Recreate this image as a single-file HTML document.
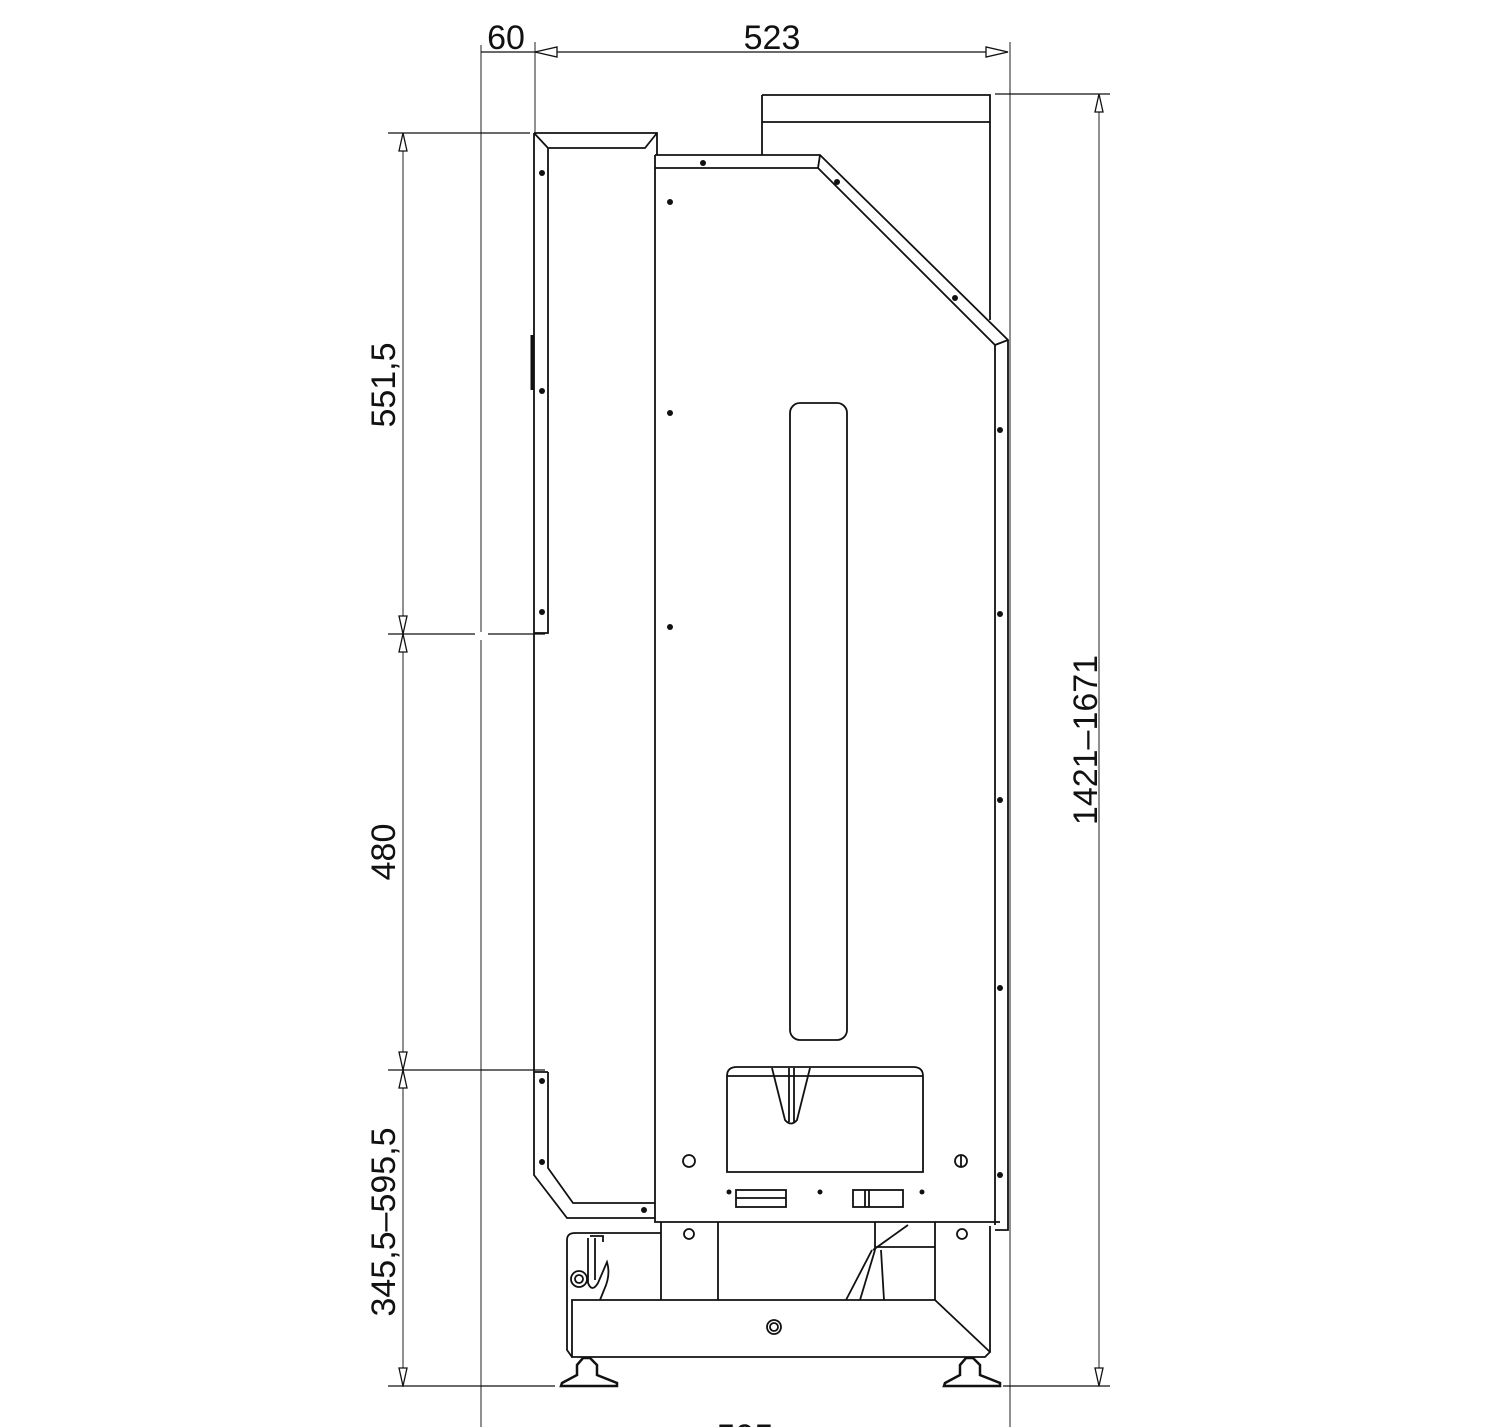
<!DOCTYPE html>
<html><head><meta charset="utf-8"><style>
html,body{margin:0;padding:0;background:#fff;}
svg{display:block;}
text{font-family:"Liberation Sans",sans-serif;font-size:34px;fill:#111;}
</style></head><body>
<svg width="1500" height="1427" viewBox="0 0 1500 1427" xmlns="http://www.w3.org/2000/svg">
<g fill="none" stroke="#111" stroke-width="1.3">
<!-- dimension lines -->
<line x1="481" y1="45" x2="481" y2="632" stroke="#555"/>
<line x1="481" y1="640" x2="481" y2="1427" stroke="#555"/>
<line x1="535" y1="42" x2="535" y2="135" stroke="#555"/>
<line x1="1010" y1="42" x2="1010" y2="1427" stroke="#555"/>
<line x1="481" y1="52" x2="1008" y2="52"/>
<path d="M535 52 L557 47 L557 57 Z M1008 52 L986 47 L986 57 Z" fill="#fff"/>
<line x1="403" y1="133" x2="403" y2="1387" stroke="#555"/>
<line x1="388" y1="133" x2="530" y2="133"/>
<line x1="388" y1="634" x2="475" y2="634"/>
<line x1="488" y1="634" x2="545" y2="634"/>
<line x1="388" y1="1070" x2="545" y2="1070"/>
<line x1="388" y1="1386" x2="555" y2="1386"/>
<line x1="1003" y1="1386" x2="1110" y2="1386"/>
<line x1="995" y1="94" x2="1110" y2="94"/>
<line x1="1099" y1="94" x2="1099" y2="1387" stroke="#555"/>
<path d="M403 133 l-4 18 h8 Z M403 634 l-4 -18 h8 Z M403 634 l-4 18 h8 Z M403 1070 l-4 -18 h8 Z M403 1070 l-4 18 h8 Z M403 1386 l-4 -18 h8 Z M1099 94 l-4 18 h8 Z M1099 1386 l-4 -18 h8 Z" fill="#fff"/>
</g>
<g fill="none" stroke="#111" stroke-width="1.8">
<!-- left upper panel -->
<path d="M534 133 H657 V155 M548 148 H645 L657 133 M534 133 L548 148 M548 148 V633 H534 M534 133 V1175 L567 1218 H655 M548 1072 V1168 L573 1203 H655 M534 1072 H548"/>
<line x1="532" y1="335" x2="532" y2="390" stroke-width="3"/>
<!-- top box -->
<path d="M762 95 H990 V320 M762 95 V155 M762 122 H990"/>
<!-- main body -->
<path d="M655 155 H820 L1008 340 V1230 H995 M655 168 H818 L995 345 V1225 M820 155 L818 168 M1008 340 L995 345 M655 155 V1222 H1000"/>
<!-- slot -->
<rect x="790" y="403" width="57" height="637" rx="10"/>
<!-- lower box -->
<path d="M727 1172 V1076 Q727 1067 737 1067 H913 Q923 1067 923 1076 V1172 Z M727 1076 H923"/>
<path d="M772 1068 L785 1120 Q791 1127 797 1120 L810 1068 M789 1068 V1122 M794 1068 V1122"/>
<circle cx="689" cy="1161" r="6"/><circle cx="961" cy="1161" r="6"/>
<line x1="961" y1="1155" x2="961" y2="1167"/>
<rect x="736" y="1190" width="50" height="17"/><line x1="736" y1="1198" x2="786" y2="1198"/>
<rect x="853" y="1190" width="50" height="17"/><line x1="865" y1="1190" x2="865" y2="1207"/><line x1="869" y1="1190" x2="869" y2="1207"/>
<!-- base -->
<path d="M661 1222 V1300 M718 1222 V1300 M935 1222 V1300 M990 1226 V1352"/>
<path d="M572 1300 H935 L990 1352 L985 1357 H572 Z"/>
<path d="M567 1240 Q567 1233 575 1233 H661 M567 1240 V1350 L572 1357"/>
<path d="M875 1222 V1250 M875 1247 H935 M873 1250 L908 1225 M872 1250 L846 1300 M875 1250 L860 1300 M881 1250 L884 1300"/>
<circle cx="689" cy="1234" r="5"/><circle cx="962" cy="1234" r="5"/>
<circle cx="774" cy="1327" r="7"/><circle cx="774" cy="1327" r="4"/>
<circle cx="579" cy="1279" r="8"/><circle cx="579" cy="1279" r="4"/>
<path d="M588 1238 V1283 Q592 1293 598 1283 L607 1262 Q611 1275 604 1290 L600 1300 M595 1238 V1280 M590 1236 H603 V1242"/>
</g>
<!-- feet -->
<path d="M561 1386 H617 V1383 L597 1375 V1365 L590 1358 H583 L577 1365 V1375 L562 1383 Z" fill="none" stroke="#111" stroke-width="2.5"/>
<path d="M944 1386 H1000 V1383 L980 1375 V1365 L973 1358 H966 L960 1365 V1375 L945 1383 Z" fill="none" stroke="#111" stroke-width="2.5"/>
<g fill="#111">
<circle cx="542" cy="173" r="3"/><circle cx="542" cy="391" r="3"/><circle cx="542" cy="612" r="3"/>
<circle cx="542" cy="1081" r="3"/><circle cx="542" cy="1162" r="3"/><circle cx="644" cy="1210" r="3"/>
<circle cx="703" cy="163" r="3"/><circle cx="670" cy="202" r="3"/><circle cx="670" cy="413" r="3"/><circle cx="670" cy="627" r="3"/>
<circle cx="837" cy="182" r="3"/><circle cx="955" cy="298" r="3"/>
<circle cx="1000" cy="430" r="3"/><circle cx="1000" cy="614" r="3"/><circle cx="1000" cy="800" r="3"/><circle cx="1000" cy="988" r="3"/><circle cx="1000" cy="1175" r="3"/>
<circle cx="729" cy="1192" r="2.5"/><circle cx="820" cy="1192" r="2.5"/><circle cx="922" cy="1192" r="2.5"/>
</g>
<!-- labels -->
<text x="506" y="49" text-anchor="middle">60</text>
<text x="772" y="49" text-anchor="middle">523</text>
<text transform="translate(395 385) rotate(-90)" text-anchor="middle">551,5</text>
<text transform="translate(395 852) rotate(-90)" text-anchor="middle">480</text>
<text transform="translate(395 1222) rotate(-90)" text-anchor="middle">345,5–595,5</text>
<text transform="translate(1097 740) rotate(-90)" text-anchor="middle">1421–1671</text>
<text x="745" y="1448" text-anchor="middle">595</text>
</svg>
</body></html>
